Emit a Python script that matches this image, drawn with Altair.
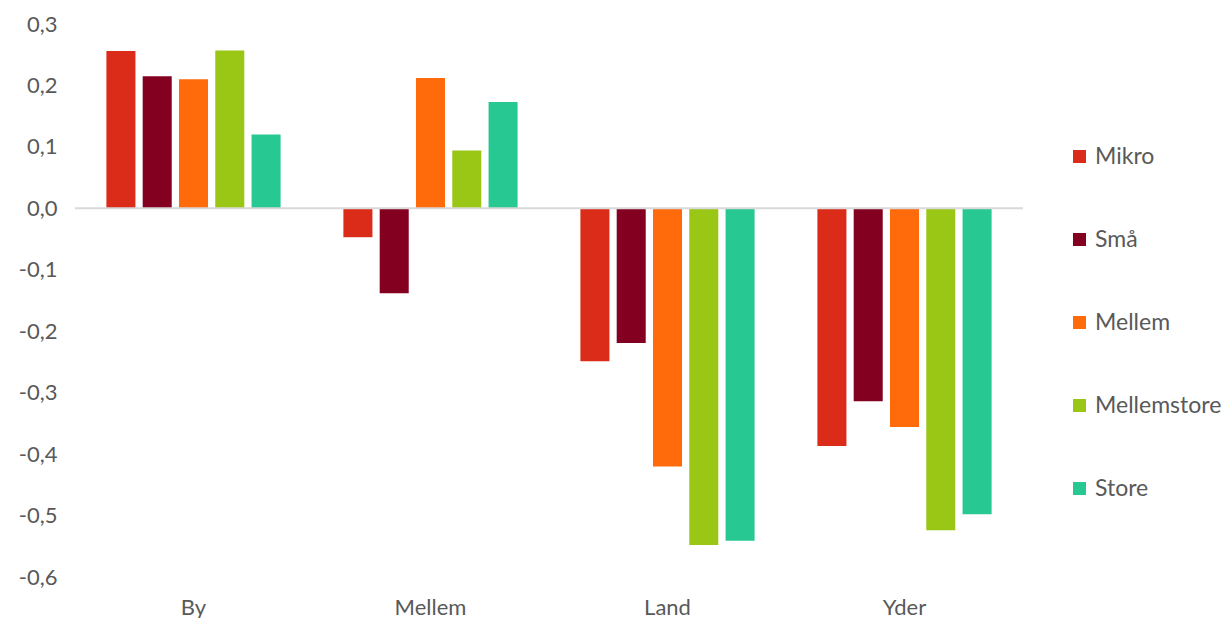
import altair as alt
import pandas as pd

regions = ["By", "Mellem", "Land", "Yder"]
sizes = ["Mikro", "Små", "Mellem", "Mellemstore", "Store"]
mikro = [0.256, -0.047, -0.249, -0.387]
smaa = [0.215, -0.138, -0.219, -0.314]
mellem = [0.210, 0.212, -0.420, -0.356]
mellemstore = [0.257, 0.094, -0.548, -0.524]
store = [0.120, 0.173, -0.541, -0.498]
colors = ["#DB2B19", "#840020", "#FF6A0A", "#9AC615", "#27C891"]
y_ticks = [-0.6, -0.5, -0.4, -0.3, -0.2, -0.1, 0.0, 0.1, 0.2, 0.3]

series = [mikro, smaa, mellem, mellemstore, store]
rows = []
for s, vals in zip(sizes, series):
    for r, v in zip(regions, vals):
        rows.append({"region": r, "size": s, "value": v})
df = pd.DataFrame(rows)

FONT = "Lato"
TXT = "#595959"

bars = alt.Chart(df).mark_bar().encode(
    x=alt.X("region:N", sort=regions,
            scale=alt.Scale(paddingInner=0.265, paddingOuter=0.1325),
            axis=alt.Axis(title=None, domain=False, ticks=False, labelAngle=0,
                          labelPadding=20, labelFontSize=22, labelFont=FONT,
                          labelColor=TXT)),
    xOffset=alt.XOffset("size:N", sort=sizes, scale=alt.Scale(paddingInner=0.2)),
    y=alt.Y("value:Q", scale=alt.Scale(domain=[-0.6, 0.3], nice=False, zero=False),
            axis=alt.Axis(title=None, domain=False, ticks=False, grid=False,
                          values=y_ticks, labelPadding=18, minExtent=62,
                          labelFontSize=22, labelFont=FONT, labelColor=TXT,
                          labelExpr="(datum.value < -0.0001 ? '-' : '') + replace(format(abs(datum.value), '.1f'), '.', ',')")),
    color=alt.Color("size:N", sort=sizes,
                    scale=alt.Scale(domain=sizes, range=colors),
                    legend=alt.Legend(title=None, orient="none", legendX=993, legendY=121,
                                      symbolType="square", symbolSize=169,
                                      symbolStrokeWidth=0, labelFontSize=23,
                                      labelFont=FONT, labelColor=TXT, labelOffset=4,
                                      rowPadding=59, padding=0)),
)

zero = alt.Chart(pd.DataFrame({"y": [0.0]})).mark_rule(color="#D9D9D9", strokeWidth=2).encode(
    y="y:Q"
)

chart = (bars + zero).properties(
    width=948, height=553,
    padding={"left": 5, "top": 5, "right": 0, "bottom": 0},
    background="white",
).configure_view(strokeWidth=0, stroke="transparent")

chart.save("out.html", embed_options={"renderer": "svg", "actions": False})
